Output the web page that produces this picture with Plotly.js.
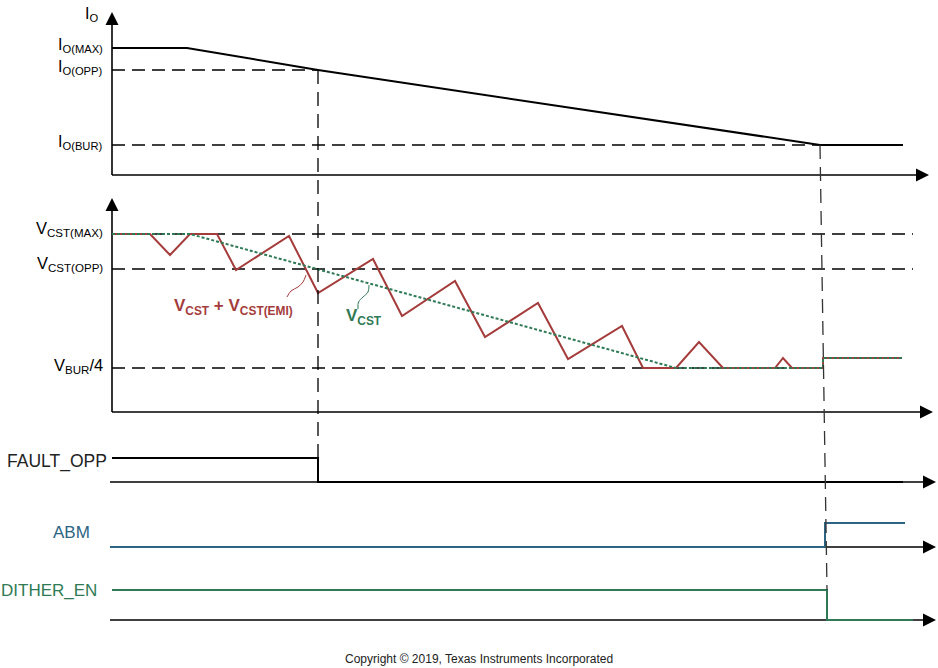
<!DOCTYPE html>
<html>
<head>
<meta charset="utf-8">
<script src="https://cdn.plot.ly/plotly-3.0.1.min.js"></script>
<style>html,body{margin:0;padding:0;background:#fff;}#chart{width:938px;height:668px;}</style>
</head>
<body>
<div id="chart"></div>
<script>
// ---------- data (time in arbitrary units, levels in arbitrary units per panel) ----------
// Panel 1: output current I_O
const ioLevels = {max: 127, opp: 105, bur: 30};
const ioT = [0, 75, 206, 708, 791];
const ioV = [127, 127, 105, 30, 30];

// Panel 2: CS voltage
const vcstLevels = {max: 178, opp: 143, bur4: 44};
const emiT = [0, 38, 58, 78, 105, 124, 177, 206, 261, 290, 343, 373, 426, 456, 510, 531, 564, 587, 611, 663, 671, 680, 711, 711, 790];
const emiV = [178, 178, 157, 178, 178, 142, 176, 119, 153, 96, 131, 75, 109, 53, 86, 44, 44, 70, 44, 44, 54, 44, 44, 54, 54];
const vcstT = [0, 78, 564, 711, 711, 790];
const vcstV = [178, 178, 44, 44, 54, 54];

// Digital signals
const faultT = [0, 206, 206, 791];
const faultV = [24, 24, 0, 0];
const abmT = [-2, 713, 713, 793];
const abmV = [0, 0, 24, 24];
const ditherT = [0, 715, 715, 801];
const ditherV = [30, 30, 0, 0];

// Event times
const tOPP = 206;
const tBUR = [708, 715];

// Labels
const ioLabels = ["I<sub>O(MAX)</sub>", "I<sub>O(OPP)</sub>", "I<sub>O(BUR)</sub>"];
const vLabels = ["V<sub>CST(MAX)</sub>", "V<sub>CST(OPP)</sub>", "V<sub>BUR</sub>/4"];
const sigLabels = ["FAULT_OPP", "ABM", "DITHER_EN"];

// leader curves for the callouts
const leadRedT = [175, 179, 186, 191, 194];
const leadRedV = [115, 121, 125, 130, 137];
const leadGrnT = [246, 246.5, 251, 256, 257];
const leadGrnV = [103, 110, 115, 120, 127];

// ---------- layout helpers ----------
const W = 938, H = 668;
const PAD = 8;
// panels: baseline pixel and height above baseline
const panels = [
  {base: 175, top: 165},
  {base: 412, top: 217},
  {base: 482, top: 32},
  {base: 547, top: 32},
  {base: 620, top: 38}
];
function domainOf(p) { return [(H - (p.base + PAD)) / H, (H - (p.base - p.top)) / H]; }
function paperY(pi, v) { return (H - (panels[pi].base - v)) / H; }

const FONT = "Liberation Sans, Arial, Helvetica, sans-serif";
const BLACK = "#000000";
const RED = "#a53c3c";
const GREEN = "#2f7a55";
const BLUE = "#2c6584";
const DITHER_COL = "#2f7a55";
const DASH_H = "13px,7px";
const DASH_V = "14px,8px";

const yax = ["y", "y2", "y3", "y4", "y5"];
const traces = [];

function line(x, y, ax, color, width, dash, shape) {
  traces.push({x: x, y: y, yaxis: ax, xaxis: "x", type: "scatter", mode: "lines",
    line: {color: color, width: width, dash: dash || "solid", shape: shape || "linear"},
    hoverinfo: "skip", showlegend: false, cliponaxis: false});
}
function arrow(x, y, ax, sym) {
  traces.push({x: [x], y: [y], yaxis: ax, xaxis: "x", type: "scatter", mode: "markers",
    marker: {symbol: sym, size: 13, color: BLACK, line: {width: 0}},
    hoverinfo: "skip", showlegend: false, cliponaxis: false});
}

// axes (drawn as lines with arrowheads)
const xEnd = [813, 818, 822, 822, 822];
const xTip = [817, 821, 824, 824, 824];
for (let i = 0; i < 5; i++) {
  line([i < 2 ? 0 : -2, xEnd[i]], [0, 0], yax[i], BLACK, 1.6);
  arrow(xTip[i], 0, yax[i], "arrow-right");
}
line([0, 0], [0, 152], "y", BLACK, 1.6); arrow(0, 163, "y", "arrow-up");
line([0, 0], [0, 203], "y2", BLACK, 1.6); arrow(0, 214, "y2", "arrow-up");

// reference dashed levels
line([0, tOPP], [ioLevels.opp, ioLevels.opp], "y", BLACK, 1.3, DASH_H);
line([0, tBUR[0]], [ioLevels.bur, ioLevels.bur], "y", BLACK, 1.3, DASH_H);
line([0, 801], [vcstLevels.max, vcstLevels.max], "y2", BLACK, 1.3, DASH_H);
line([0, 801], [vcstLevels.opp, vcstLevels.opp], "y2", BLACK, 1.3, DASH_H);
line([0, tBUR[0]], [vcstLevels.bur4, vcstLevels.bur4], "y2", BLACK, 1.3, DASH_H);

// waveforms
line(ioT, ioV, "y", BLACK, 2);
line(emiT, emiV, "y2", RED, 2);
line(vcstT, vcstV, "y2", GREEN, 2, "3px,2px");
line(faultT, faultV, "y3", BLACK, 2);
line(abmT, abmV, "y4", BLUE, 2);
line(ditherT, ditherV, "y5", DITHER_COL, 2);
line(leadRedT, leadRedV, "y2", RED, 1, "solid", "spline");
line(leadGrnT, leadGrnV, "y2", GREEN, 1, "solid", "spline");

// vertical dashed event markers
const shapes = [
  {type: "line", xref: "x", yref: "paper", x0: tOPP, x1: tOPP,
   y0: paperY(0, ioLevels.opp), y1: paperY(2, -5), line: {color: BLACK, width: 1.3, dash: DASH_V}},
  {type: "line", xref: "x", yref: "paper", x0: tBUR[0], x1: tBUR[1],
   y0: paperY(0, ioLevels.bur), y1: paperY(4, 30), line: {color: "#333", width: 1.3, dash: DASH_V}}
];

// annotations
const ann = [];
function lab(text, v, ax, color, size, x, yshift) {
  ann.push({text: text, x: x, y: v, xref: "x", yref: ax, xanchor: "right", yanchor: "middle",
    showarrow: false, yshift: yshift || 0, font: {family: FONT, size: size, color: color}});
}
lab("I<sub>O</sub>", 160, "y", BLACK, 16, -12, 0);
lab(ioLabels[0], ioLevels.max, "y", BLACK, 16, -7, 2);
lab(ioLabels[1], ioLevels.opp, "y", BLACK, 16, -7, 2);
lab(ioLabels[2], ioLevels.bur, "y", BLACK, 16, -7, 2);
lab(vLabels[0], vcstLevels.max, "y2", BLACK, 16.5, -7, 5);
lab(vLabels[1], vcstLevels.opp, "y2", BLACK, 16.5, -7, 5);
lab(vLabels[2], vcstLevels.bur4, "y2", BLACK, 16.5, -7, 2);
lab(sigLabels[0], 24, "y3", "#222", 17.5, -3, -4);
lab(sigLabels[1], 0, "y4", BLUE, 17, -20, 15);
lab(sigLabels[2], 30, "y5", DITHER_COL, 17, -13, 0);
ann.push({text: "<b>V<sub>CST</sub> + V<sub>CST(EMI)</sub></b>", x: 60, y: 105, xref: "x", yref: "y2",
  xanchor: "left", yanchor: "middle", showarrow: false, font: {family: FONT, size: 17, color: RED}});
ann.push({text: "<b>V<sub>CST</sub></b>", x: 232, y: 95, xref: "x", yref: "y2",
  xanchor: "left", yanchor: "middle", showarrow: false, font: {family: FONT, size: 17, color: GREEN}});
ann.push({text: "Copyright © 2019, Texas Instruments Incorporated", x: 479 / W, y: 9 / H, xref: "paper", yref: "paper",
  xanchor: "center", yanchor: "middle", showarrow: false, font: {family: FONT, size: 12, color: "#222"}});

const layout = {
  width: W, height: H, margin: {l: 0, r: 0, t: 0, b: 0},
  paper_bgcolor: "#fff", plot_bgcolor: "rgba(0,0,0,0)",
  showlegend: false,
  xaxis: {range: [-112, 826], visible: false, fixedrange: true, domain: [0, 1]},
  shapes: shapes, annotations: ann
};
panels.forEach(function (p, i) {
  const key = i === 0 ? "yaxis" : "yaxis" + (i + 1);
  layout[key] = {domain: domainOf(p), range: [-PAD, p.top], visible: false, fixedrange: true, anchor: "x"};
});

Plotly.newPlot("chart", traces, layout, {staticPlot: true, displayModeBar: false});
</script>
</body>
</html>
